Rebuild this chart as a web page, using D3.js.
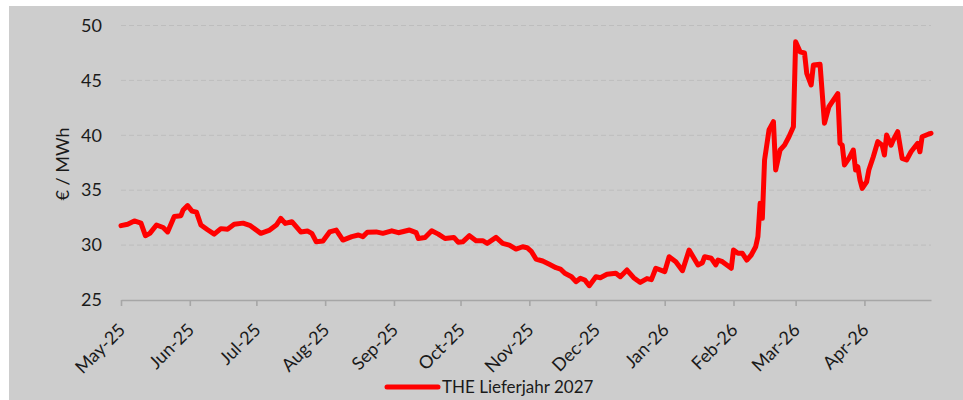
<!DOCTYPE html>
<html>
<head>
<meta charset="utf-8">
<script src="https://cdn.jsdelivr.net/npm/d3@7/dist/d3.min.js"></script>
<style>
  body { margin: 0; background: #fff; }
  svg { display: block; font-family: Lato, "Open Sans", sans-serif; }
</style>
</head>
<body>
<div id="chart"></div>
<script>
// THE Lieferjahr 2027, daily settlement
var dates = [
  "2025-05-01","2025-05-04","2025-05-07","2025-05-10","2025-05-12","2025-05-14","2025-05-17","2025-05-20",
  "2025-05-22","2025-05-25","2025-05-28","2025-05-29","2025-05-31","2025-06-02","2025-06-04","2025-06-06",
  "2025-06-09","2025-06-12","2025-06-15","2025-06-18","2025-06-21","2025-06-25","2025-06-28","2025-07-03",
  "2025-07-07","2025-07-10","2025-07-12","2025-07-14","2025-07-17","2025-07-21","2025-07-24","2025-07-26",
  "2025-07-28","2025-07-31","2025-08-03","2025-08-06","2025-08-09","2025-08-13","2025-08-16","2025-08-18",
  "2025-08-20","2025-08-24","2025-08-27","2025-08-31","2025-09-03","2025-09-08","2025-09-11","2025-09-12",
  "2025-09-15","2025-09-18","2025-09-21","2025-09-24","2025-09-28","2025-09-30","2025-10-02","2025-10-05",
  "2025-10-08","2025-10-11","2025-10-13","2025-10-17","2025-10-20","2025-10-23","2025-10-26","2025-10-29",
  "2025-10-31","2025-11-02","2025-11-04","2025-11-07","2025-11-10","2025-11-13","2025-11-15","2025-11-17",
  "2025-11-20","2025-11-22","2025-11-24","2025-11-26","2025-11-28","2025-12-01","2025-12-03","2025-12-06",
  "2025-12-10","2025-12-12","2025-12-15","2025-12-18","2025-12-21","2025-12-24","2025-12-26","2025-12-28",
  "2026-01-01","2026-01-03","2026-01-06","2026-01-09","2026-01-12","2026-01-16","2026-01-18","2026-01-19",
  "2026-01-22","2026-01-24","2026-01-25","2026-01-27","2026-01-31","2026-02-01","2026-02-03","2026-02-05",
  "2026-02-07","2026-02-09","2026-02-11","2026-02-12","2026-02-13","2026-02-14","2026-02-15","2026-02-17",
  "2026-02-19","2026-02-20","2026-02-22","2026-02-24","2026-02-26","2026-02-28","2026-03-01","2026-03-03",
  "2026-03-05","2026-03-06","2026-03-08","2026-03-09","2026-03-12","2026-03-14","2026-03-16","2026-03-18",
  "2026-03-20","2026-03-21","2026-03-22","2026-03-23","2026-03-25","2026-03-27","2026-03-28","2026-03-29",
  "2026-03-30","2026-03-31","2026-04-02","2026-04-03","2026-04-05","2026-04-07","2026-04-09","2026-04-10",
  "2026-04-11","2026-04-13","2026-04-14","2026-04-16","2026-04-18","2026-04-20","2026-04-22","2026-04-25",
  "2026-04-26","2026-04-27","2026-04-30","2026-05-01"
];

var prices = [
  31.77,31.9,32.2,32.0,30.86,31.07,31.83,31.6,
  31.2,32.6,32.68,33.2,33.6,33.1,33.0,31.83,
  31.4,31.0,31.5,31.45,31.9,32.0,31.8,31.07,
  31.37,31.83,32.44,31.98,32.13,31.2,31.28,31.07,
  30.3,30.37,31.2,31.37,30.46,30.77,30.92,30.77,
  31.17,31.2,31.07,31.3,31.13,31.37,31.13,30.6,
  30.7,31.3,31.0,30.6,30.7,30.25,30.3,30.86,
  30.4,30.4,30.16,30.7,30.16,30.0,29.64,29.85,
  29.76,29.4,28.73,28.55,28.25,27.94,27.82,27.43,
  27.12,26.67,26.97,26.82,26.3,27.12,27.03,27.34,
  27.43,27.12,27.73,27.03,26.6,26.95,26.85,27.89,
  27.58,28.94,28.49,27.67,29.55,28.19,28.4,28.94,
  28.8,28.19,28.64,28.49,27.89,29.55,29.25,29.25,
  28.64,29.1,29.85,30.77,33.8,32.44,37.75,40.48,
  41.24,36.84,38.66,39.1,39.87,40.78,48.52,47.6,
  47.5,45.65,44.58,46.4,46.47,41.1,42.6,43.2,
  43.8,39.27,39.1,37.3,37.9,38.66,36.84,37.14,
  35.93,35.17,35.77,36.84,38.05,39.42,39.1,38.2,
  40.03,39.1,39.57,40.33,37.9,37.75,38.5,39.27,
  38.5,39.87,40.12,40.18
];

var yTicks = [25, 30, 35, 40, 45, 50];
var seriesName = "THE Lieferjahr 2027";
var yTitle = "€ / MWh";

var width = 963,
    height = 400;

var margin = {top: 25.5, right: 32, bottom: 100, left: 121},
    chartWidth = width - margin.left - margin.right,
    chartHeight = height - margin.top - margin.bottom;

var parseDate = d3.timeParse("%Y-%m-%d");

var data = dates.map(function(d, i){
  return {date: parseDate(d), value: prices[i]};
});

var svg = d3.select('#chart').append('svg')
  .attr('width', width)
  .attr('height', height);

svg.append('rect')
  .attr('x', 9)
  .attr('y', 6)
  .attr('width', width - 9)
  .attr('height', height - 6)
  .attr('fill', '#cdcdcd');

var chart = svg.append('g')
  .attr('transform', 'translate(' + margin.left + ',' + margin.top + ')');

var x = d3.scaleTime()
  .domain([parseDate("2025-05-01"), parseDate("2026-05-01")])
  .range([0, chartWidth]);

var y = d3.scaleLinear()
  .domain([25, 50])
  .range([chartHeight, 0]);

// gridlines
chart.append('g')
  .selectAll('.grid')
  .data(yTicks.slice(1))
  .enter().append('line')
  .attr('class', 'grid')
  .attr('x1', 0)
  .attr('x2', chartWidth)
  .attr('y1', function(d){ return y(d); })
  .attr('y2', function(d){ return y(d); })
  .attr('stroke', '#bdbdbd')
  .attr('stroke-width', 1)
  .attr('stroke-dasharray', '5,3');

// y axis labels
var yAxis = chart.append('g')
  .call(d3.axisLeft(y).tickValues(yTicks).tickSize(0).tickPadding(19));
yAxis.select('.domain').remove();
yAxis.selectAll('text')
  .attr('font-size', 18)
  .attr('font-family', 'Lato, sans-serif')
  .attr('fill', '#1a1a1a');

// x axis
var months = d3.timeMonth.range(parseDate("2025-05-01"), parseDate("2026-05-01"));

var xAxis = chart.append('g')
  .attr('transform', 'translate(0,' + chartHeight + ')')
  .call(d3.axisBottom(x).tickValues(months).tickSize(6).tickSizeOuter(0)
    .tickFormat(d3.timeFormat("%b-%y")));

xAxis.select('.domain')
  .attr('stroke', '#a6a6a6')
  .attr('stroke-width', 1.6);
xAxis.selectAll('.tick line')
  .attr('stroke', '#a6a6a6')
  .attr('stroke-width', 1.6);
xAxis.selectAll('text')
  .attr('font-size', 18)
  .attr('font-family', 'Lato, sans-serif')
  .attr('fill', '#1a1a1a')
  .attr('text-anchor', 'end')
  .attr('y', 0)
  .attr('dy', 0)
  .attr('transform', 'translate(5,31) rotate(-45)');

// y title
svg.append('text')
  .attr('transform', 'translate(69,164) rotate(-90)')
  .attr('text-anchor', 'middle')
  .attr('font-size', 18)
  .attr('fill', '#1a1a1a')
  .text(yTitle);

var line = d3.line()
  .x(function(d){ return x(d.date); })
  .y(function(d){ return y(d.value); });

chart.append('path')
  .datum(data)
  .attr('d', line)
  .attr('fill', 'none')
  .attr('stroke', '#ff0000')
  .attr('stroke-width', 5)
  .attr('stroke-linejoin', 'round')
  .attr('stroke-linecap', 'round');

// legend
var legend = svg.append('g')
  .attr('transform', 'translate(387,387)');

legend.append('line')
  .attr('x1', 0)
  .attr('x2', 51)
  .attr('stroke', '#ff0000')
  .attr('stroke-width', 5)
  .attr('stroke-linecap', 'round');

legend.append('text')
  .attr('x', 55)
  .attr('y', 6)
  .attr('font-size', 17)
  .attr('fill', '#1a1a1a')
  .text(seriesName);
</script>
</body>
</html>
